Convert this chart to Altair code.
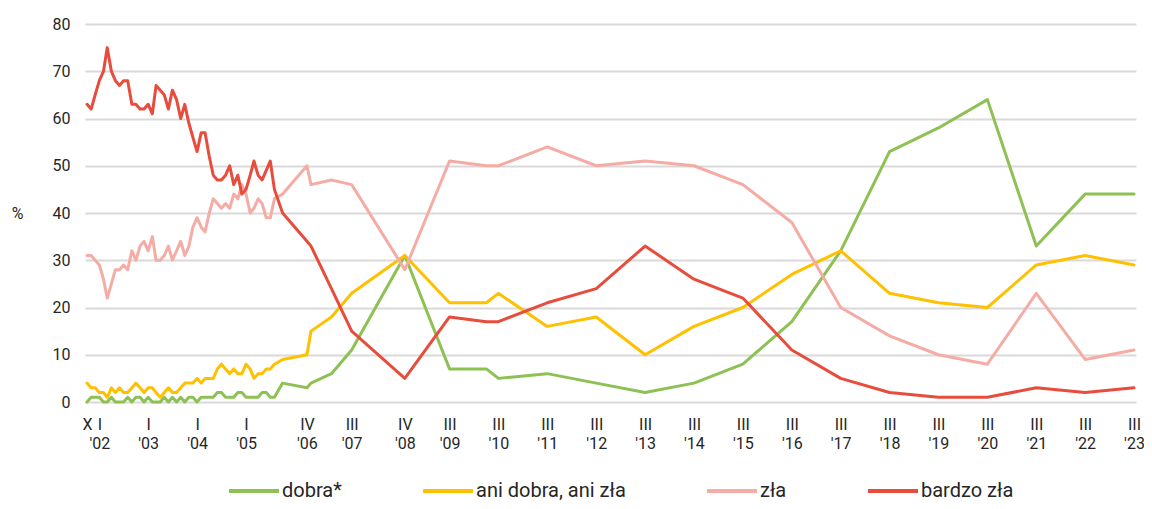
import altair as alt
import pandas as pd

# ---- data -------------------------------------------------------------
early_months = [f"{y}-{m:02d}-01" for y in range(2001, 2006) for m in range(1, 13)
                if (y, m) >= (2001, 10) and (y, m) <= (2005, 8)]
later_dates = ["2005-10-01", "2006-04-01", "2006-05-01", "2006-10-01", "2007-03-01",
               "2008-04-01", "2009-03-01", "2009-12-01", "2010-03-01"] + \
              [f"{y}-03-01" for y in range(2011, 2024)]
dates = early_months + later_dates

dobra = [0, 1, 1, 1, 0, 0, 1, 0, 0, 0, 1, 0, 1, 1, 0, 1, 0, 0, 0, 1, 0, 1, 0, 1,
         0, 1, 1, 0, 1, 1, 1, 1, 2, 2, 1, 1, 1, 2, 2, 1, 1, 1, 1, 2, 2, 1, 1,
         4, 3, 4, 6, 11, 31, 7, 7, 5, 6, 4, 2, 4, 8, 17, 32, 53, 58, 64, 33, 44, 44]
ani = [4, 3, 3, 2, 2, 1, 3, 2, 3, 2, 2, 3, 4, 3, 2, 3, 3, 2, 1, 2, 3, 2, 2, 3,
       4, 4, 4, 5, 4, 5, 5, 5, 7, 8, 7, 6, 7, 6, 6, 8, 7, 5, 6, 6, 7, 7, 8,
       9, 10, 15, 18, 23, 31, 21, 21, 23, 16, 18, 10, 16, 20, 27, 32, 23, 21, 20, 29, 31, 29]
zla = [31, 31, 30, 29, 26, 22, 25, 28, 28, 29, 28, 32, 30, 33, 34, 32, 35, 30, 30, 31, 33, 30, 32, 34,
       31, 33, 37, 39, 37, 36, 40, 43, 42, 41, 42, 41, 44, 43, 46, 44, 40, 41, 43, 42, 39, 39, 43,
       44, 50, 46, 47, 46, 28, 51, 50, 50, 54, 50, 51, 50, 46, 38, 20, 14, 10, 8, 23, 9, 11]
bardzo = [63, 62, 65, 68, 70, 75, 70, 68, 67, 68, 68, 63, 63, 62, 62, 63, 61, 67, 66, 65, 62, 66, 64, 60,
          63, 59, 56, 53, 57, 57, 52, 48, 47, 47, 48, 50, 46, 48, 44, 45, 48, 51, 48, 47, 49, 51, 45,
          40, 34, 33, 24, 15, 5, 18, 17, 17, 21, 24, 33, 26, 22, 11, 5, 2, 1, 1, 3, 2, 3]

series_names = ["dobra*", "ani dobra, ani zła", "zła", "bardzo zła"]
series_colors = ["#8dc153", "#ffc000", "#f4aca5", "#e74c3c"]

tick_dates = [(2001, 10), (2002, 1), (2003, 1), (2004, 1), (2005, 1), (2006, 4), (2007, 3),
              (2008, 4)] + [(y, 3) for y in range(2009, 2024)]

rows = []
for name, vals in zip(series_names, [dobra, ani, zla, bardzo]):
    for d, v in zip(dates, vals):
        rows.append({"date": d, "series": name, "value": v})
df = pd.DataFrame(rows)

# ---- chart ------------------------------------------------------------
def dt(y, m, d=1):
    return alt.DateTime(year=y, month=m, date=d, utc=True)

label_expr = ("utcyear(datum.value) == 2001 ? 'X' : "
              "[['I','II','III','IV','V','VI','VII','VIII','IX','X','XI','XII'][utcmonth(datum.value)], "
              "\"'\" + utcFormat(datum.value, '%y')]")

x = alt.X("date:T",
          scale=alt.Scale(domain=[dt(2001, 9, 16), dt(2023, 3, 16)]),
          axis=alt.Axis(values=[dt(y, m) for y, m in tick_dates], labelExpr=label_expr,
                        title=None, grid=False, domain=False, ticks=False,
                        labelFont="Liberation Sans Narrow, Roboto", labelFontSize=16,
                        labelColor="#262626", labelPadding=14, labelFlush=False,
                        labelOverlap=False, labelBound=False, labelBaseline="top",
                        labelLineHeight=19, labelAlign="center"))
y = alt.Y("value:Q",
          scale=alt.Scale(domain=[0, 80]),
          axis=alt.Axis(values=list(range(0, 81, 10)), title="%", titleAngle=0,
                        titleX=-68, titleY=189, titleAlign="center", titleBaseline="middle",
                        titleFont="Roboto", titleFontSize=16, titleFontWeight="normal",
                        titleColor="#262626",
                        grid=True, gridColor="#d9d9d9", gridWidth=2, domain=False, ticks=False,
                        labelFont="Roboto", labelFontSize=16, labelColor="#262626",
                        labelPadding=15))
color = alt.Color("series:N",
                  scale=alt.Scale(domain=series_names, range=series_colors),
                  legend=alt.Legend(orient="none", legendX=142, legendY=440,
                                    direction="horizontal", title=None,
                                    symbolType="stroke", symbolSize=2500, symbolStrokeWidth=4,
                                    labelFont="Roboto", labelFontSize=20, labelColor="#262626",
                                    labelOffset=1, columnPadding=73))

base = alt.Chart(df)
layers = [
    base.transform_filter(alt.datum.series == n)
        .mark_line(strokeWidth=3, strokeJoin="round", strokeCap="round")
        .encode(x=x, y=y, color=color)
    for n in series_names
]

chart = alt.layer(*layers).properties(
    width=1051, height=378,
    padding={"left": 77, "top": 16, "right": 8, "bottom": 99},
    autosize=alt.AutoSizeParams(type="none"),
).configure_view(stroke=None)

chart.save("out.html", embed_options={"renderer": "svg", "actions": False})
